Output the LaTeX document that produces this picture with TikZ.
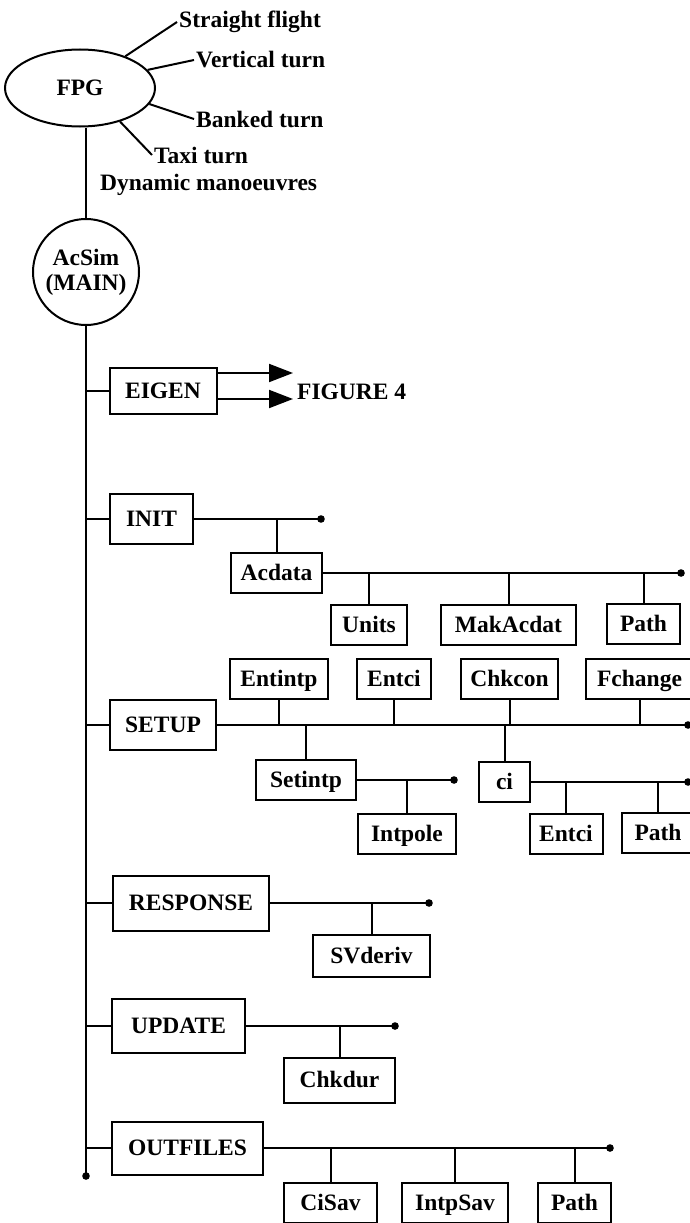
\documentclass[tikz,border=0pt]{standalone}
\usepackage{fontspec}
\setmainfont{Liberation Serif}
\usetikzlibrary{arrows.meta,shapes.geometric}
\tikzset{
  lbl/.style       = {font=\bfseries\fontsize{23.5}{25}\selectfont},
  txtlbl/.style    = {lbl, anchor=west, inner sep=2pt},
  boxlbl/.style    = {lbl, draw, line width=2pt, inner xsep=4pt, inner ysep=2pt,
                      text height=15.5pt, text depth=0pt},
  mainbox/.style   = {boxlbl, minimum height=50pt, minimum width=#1},
  mainbox/.default = 100pt,
  subbox/.style    = {boxlbl, minimum height=40pt, minimum width=#1},
  subbox/.default  = 80pt,
  conn/.style      = {line width=2pt},
  figarr/.style    = {conn, -{Triangle[length=24pt,width=18pt]}}
}

\begin{document}
\begin{tikzpicture}[x=1pt,y=-1pt]
  \clip (0,0) rectangle (690,1223);
  % --- FPG and the manoeuvres it generates ---------------------------------
  \node[lbl, draw, ellipse, line width=2pt, minimum width=150pt,
        minimum height=77pt, inner sep=0pt] (fpg) at (80,88) {FPG};
  \node[txtlbl] (straight) at (177,22)  {Straight flight};
  \node[txtlbl] (vertical) at (194,60)  {Vertical turn};
  \node[txtlbl] (banked)   at (194,119) {Banked turn};
  \node[txtlbl] (taxi)     at (152,155) {Taxi turn};
  \node[txtlbl] (dynamic)  at (98,185)  {Dynamic manoeuvres};
  \draw[conn] (fpg.35)  -- (straight.west);
  \draw[conn] (fpg.15)  -- (vertical.west);
  \draw[conn] (fpg.-13) -- (banked.west);
  \draw[conn] (fpg.-40) -- (taxi.west);
  % --- main program and its spine -------------------------------------------
  \node[lbl, draw, circle, line width=2pt, minimum size=106pt, inner sep=0pt,
        align=center] (acsim) at (86,272) {AcSim\\(MAIN)};
  \draw[conn] (acsim.north) -- (acsim.north |- fpg.south);
  \coordinate (spineend) at (86,1176);
  \draw[conn] (acsim.south) -- (spineend);
  % top level routines
  \node[mainbox=107pt, minimum height=46pt] (eigen) at (163,391) {EIGEN};
  \node[mainbox=83pt]  (init)     at (151.5,519)  {INIT};
  \node[mainbox=106pt] (setup)    at (163,725)    {SETUP};
  \node[mainbox=156pt, minimum height=55pt] (response) at (191,903)    {RESPONSE};
  \node[mainbox=133pt, minimum height=54pt] (update)   at (178.5,1026) {UPDATE};
  \node[mainbox=151pt, minimum height=53pt] (outfiles) at (187.5,1148) {OUTFILES};
  \foreach \b in {eigen,init,setup,response,update,outfiles}
    \draw[conn] (\b.west) -- (\b.west -| spineend);
  % EIGEN leads on to the next figure
  \coordinate (figtipa) at (293,373);
  \coordinate (figtipb) at (293,399);
  \draw[figarr] (eigen.east |- figtipa) -- (figtipa);
  \draw[figarr] (eigen.east |- figtipb) -- (figtipb);
  \node[txtlbl] (fig4) at (295,392) {FIGURE 4};
  % --- INIT -----------------------------------------------------------------
  \coordinate (initend) at (321,519);
  \draw[conn] (init.east) -- (initend);
  \node[subbox=91pt] (acdata) at (276.5,573) {Acdata};
  \draw[conn] (acdata.north) -- (acdata.north |- initend);
  \coordinate (acdataend) at (681,573);
  \draw[conn] (acdata.east) -- (acdataend);
  \node[subbox=76pt]  (units)    at (369,625)   {Units};
  \node[subbox=135pt] (makacdat) at (508.5,625) {MakAcdat};
  \node[subbox=73pt]  (patha)    at (643.5,624) {Path};
  \foreach \b in {units,makacdat,patha}
    \draw[conn] (\b.north) -- (\b.north |- acdataend);
  % --- SETUP ----------------------------------------------------------------
  \coordinate (setupend) at (688,725);
  \draw[conn] (setup.east) -- (setupend);
  \node[subbox=98pt]  (entintp) at (279,679)   {Entintp};
  \node[subbox=74pt]  (entcia)  at (394,679)   {Entci};
  \node[subbox=97pt]  (chkcon)  at (509.5,679) {Chkcon};
  \node[subbox=107pt] (fchange) at (639.5,679) {Fchange};
  \foreach \b in {entintp,entcia,chkcon,fchange}
    \draw[conn] (\b.south) -- (\b.south |- setupend);
  \node[subbox=100pt] (setintp) at (306,780)   {Setintp};
  \node[subbox=51pt]  (ci)      at (504.5,782) {ci};
  \foreach \b in {setintp,ci}
    \draw[conn] (\b.north) -- (\b.north |- setupend);
  \coordinate (setintpend) at (454,780);
  \draw[conn] (setintp.east) -- (setintpend);
  \node[subbox=98pt] (intpole) at (407,834) {Intpole};
  \draw[conn] (intpole.north) -- (intpole.north |- setintpend);
  \coordinate (ciend) at (688,782);
  \draw[conn] (ci.east) -- (ciend);
  \node[subbox=73pt] (entcib) at (566,834) {Entci};
  \node[subbox=72pt] (pathb)  at (658,833) {Path};
  \foreach \b in {entcib,pathb}
    \draw[conn] (\b.north) -- (\b.north |- ciend);
  % --- RESPONSE, UPDATE -----------------------------------------------------
  \coordinate (responseend) at (429,903);
  \draw[conn] (response.east) -- (responseend);
  \node[subbox=117pt, minimum height=42pt] (svderiv) at (371.5,956) {SVderiv};
  \draw[conn] (svderiv.north) -- (svderiv.north |- responseend);
  \coordinate (updateend) at (395,1026);
  \draw[conn] (update.east) -- (updateend);
  \node[subbox=111pt, minimum height=45pt] (chkdur) at (339.5,1080) {Chkdur};
  \draw[conn] (chkdur.north) -- (chkdur.north |- updateend);
  % --- OUTFILES -------------------------------------------------------------
  \coordinate (outfilesend) at (610,1148);
  \draw[conn] (outfiles.east) -- (outfilesend);
  \node[subbox=93pt]  (cisav)   at (330.5,1203) {CiSav};
  \node[subbox=106pt] (intpsav) at (455,1203)   {IntpSav};
  \node[subbox=73pt]  (pathc)   at (574.5,1203) {Path};
  \foreach \b in {cisav,intpsav,pathc}
    \draw[conn] (\b.north) -- (\b.north |- outfilesend);
  % end dots of the buses
  \foreach \d in {initend,acdataend,setupend,setintpend,ciend,responseend,
                  updateend,outfilesend,spineend}
    \fill (\d) circle[radius=3.8pt];
\end{tikzpicture}
\end{document}
